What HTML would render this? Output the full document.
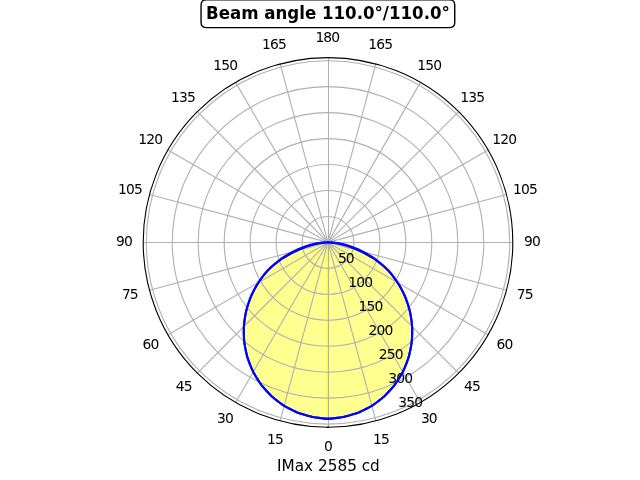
<!DOCTYPE html>
<html lang="en"><head><meta charset="utf-8"><title>Beam angle 110.0°/110.0°</title>
<style>html,body{margin:0;padding:0;background:#fff;overflow:hidden}svg{display:block}text{font-family:'DejaVu Sans','Liberation Sans',sans-serif;fill:#000}</style>
</head><body>
<svg width="640" height="480" viewBox="0 0 640 480">
<rect width="640" height="480" fill="#fff"/>
<path d="M328 242.4 L328 418.89 L331.08 418.61 L334.14 418.28 L337.2 417.89 L340.24 417.45 L343.27 416.95 L346.27 416.21 L349.24 415.41 L352.2 414.57 L355.13 413.67 L358.03 412.73 L360.86 411.44 L363.65 410.11 L366.4 408.74 L369.12 407.31 L371.8 405.85 L374.36 404.06 L376.87 402.24 L379.33 400.37 L381.74 398.47 L384.1 396.54 L386.31 394.31 L388.46 392.05 L390.55 389.76 L392.58 387.45 L394.55 385.11 L396.34 382.51 L398.05 379.89 L399.7 377.25 L401.28 374.6 L402.79 371.94 L404.1 369.05 L405.33 366.16 L406.49 363.26 L407.56 360.36 L408.56 357.46 L409.36 354.38 L410.06 351.3 L410.69 348.24 L411.24 345.19 L411.7 342.15 L411.95 338.97 L412.12 335.82 L412.2 332.69 L412.2 329.59 L412.11 326.51 L411.82 323.34 L411.44 320.21 L410.98 317.12 L410.44 314.06 L409.81 311.05 L408.99 307.99 L408.09 304.98 L407.11 302.02 L406.05 299.11 L404.92 296.26 L403.61 293.4 L402.22 290.6 L400.77 287.87 L399.23 285.2 L397.63 282.6 L395.89 280.03 L394.08 277.54 L392.2 275.11 L390.26 272.77 L388.26 270.5 L386.03 268.23 L383.73 266.06 L381.38 263.97 L378.97 261.96 L376.5 260.05 L373.89 258.2 L371.24 256.45 L368.53 254.79 L365.78 253.23 L362.99 251.78 L360.47 250.5 L357.91 249.31 L355.33 248.21 L352.71 247.2 L350.07 246.29 L347.74 245.53 L345.39 244.84 L343.02 244.24 L340.63 243.73 L338.24 243.3 L336.2 242.97 L334.16 242.72 L332.11 242.54 L330.05 242.44 L328 242.4 L328 242.4 L325.95 242.44 L323.89 242.54 L321.84 242.72 L319.8 242.97 L317.76 243.3 L315.37 243.73 L312.98 244.24 L310.61 244.84 L308.26 245.53 L305.93 246.29 L303.29 247.2 L300.67 248.21 L298.09 249.31 L295.53 250.5 L293.01 251.78 L290.22 253.23 L287.47 254.79 L284.76 256.45 L282.11 258.2 L279.5 260.05 L277.03 261.96 L274.62 263.97 L272.27 266.06 L269.97 268.23 L267.74 270.5 L265.74 272.77 L263.8 275.11 L261.92 277.54 L260.11 280.03 L258.37 282.6 L256.77 285.2 L255.23 287.87 L253.78 290.6 L252.39 293.4 L251.08 296.26 L249.95 299.11 L248.89 302.02 L247.91 304.98 L247.01 307.99 L246.19 311.05 L245.56 314.06 L245.02 317.12 L244.56 320.21 L244.18 323.34 L243.89 326.51 L243.8 329.59 L243.8 332.69 L243.88 335.82 L244.05 338.97 L244.3 342.15 L244.76 345.19 L245.31 348.24 L245.94 351.3 L246.64 354.38 L247.44 357.46 L248.44 360.36 L249.51 363.26 L250.67 366.16 L251.9 369.05 L253.21 371.94 L254.72 374.6 L256.3 377.25 L257.95 379.89 L259.66 382.51 L261.45 385.11 L263.42 387.45 L265.45 389.76 L267.54 392.05 L269.69 394.31 L271.9 396.54 L274.26 398.47 L276.67 400.37 L279.13 402.24 L281.64 404.06 L284.2 405.85 L286.88 407.31 L289.6 408.74 L292.35 410.11 L295.14 411.44 L297.97 412.73 L300.87 413.67 L303.8 414.57 L306.76 415.41 L309.73 416.21 L312.73 416.95 L315.76 417.45 L318.8 417.89 L321.86 418.28 L324.92 418.61 L328 418.89 L328 242.4 Z" fill="#ffff00" fill-opacity="0.4375"/>
<path d="M327.6 242.4 L327.6 418.89" fill="none" stroke="#ffff00" stroke-opacity="0.615" stroke-width="1.39"/>
<g fill="none" stroke="#b0b0b0" stroke-width="1.11" stroke-linecap="butt">
<path d="M328.5 242.4 L328.5 427.2"/>
<path d="M328 242.4 L375.83 420.9"/>
<path d="M328 242.4 L420.4 402.44"/>
<path d="M328 242.4 L458.67 373.07"/>
<path d="M328 242.4 L488.04 334.8"/>
<path d="M328 242.4 L506.5 290.23"/>
<path d="M328 242.5 L512.8 242.5"/>
<path d="M328 242.4 L506.5 194.57"/>
<path d="M328 242.4 L488.04 150"/>
<path d="M328 242.4 L458.67 111.73"/>
<path d="M328 242.4 L420.4 82.36"/>
<path d="M328 242.4 L375.83 63.9"/>
<path d="M328.5 242.4 L328.5 57.6"/>
<path d="M328 242.4 L280.17 63.9"/>
<path d="M328 242.4 L235.6 82.36"/>
<path d="M328 242.4 L197.33 111.73"/>
<path d="M328 242.4 L167.96 150"/>
<path d="M328 242.4 L149.5 194.57"/>
<path d="M328 242.5 L143.2 242.5"/>
<path d="M328 242.4 L149.5 290.23"/>
<path d="M328 242.4 L167.96 334.8"/>
<path d="M328 242.4 L197.33 373.07"/>
<path d="M328 242.4 L235.6 402.44"/>
<path d="M328 242.4 L280.17 420.9"/>
<circle cx="328" cy="242.4" r="25.96"/>
<circle cx="328" cy="242.4" r="51.91"/>
<circle cx="328" cy="242.4" r="77.87"/>
<circle cx="328" cy="242.4" r="103.82"/>
<circle cx="328" cy="242.4" r="129.78"/>
<circle cx="328" cy="242.4" r="155.73"/>
<circle cx="328" cy="242.4" r="181.69"/>
</g>
<g font-size="13.89" text-anchor="middle" letter-spacing="-0.84">
<text x="327.88" y="451">0</text>
<text x="380.91" y="444">15</text>
<text x="428.88" y="423">30</text>
<text x="471.94" y="391">45</text>
<text x="504.4" y="349">60</text>
<text x="524.85" y="299">75</text>
<text x="531.95" y="246">90</text>
<text x="525.07" y="194">105</text>
<text x="504.34" y="144">120</text>
<text x="472.17" y="102">135</text>
<text x="429.3" y="70">150</text>
<text x="380.23" y="49">165</text>
<text x="327.37" y="42">180</text>
<text x="274.1" y="49">165</text>
<text x="225.31" y="70">150</text>
<text x="183.08" y="102">135</text>
<text x="150.28" y="144">120</text>
<text x="130.09" y="194">105</text>
<text x="123.99" y="246">90</text>
<text x="129.88" y="299">75</text>
<text x="150.47" y="349">60</text>
<text x="183.86" y="391">45</text>
<text x="224.99" y="423">30</text>
<text x="274.89" y="444">15</text>
</g>
<g font-size="13.89" letter-spacing="-0.84">
<text x="337.88" y="263">50</text>
<text x="348.28" y="287">100</text>
<text x="358.43" y="311">150</text>
<text x="368.6" y="335">200</text>
<text x="378.81" y="359">250</text>
<text x="388.21" y="383">300</text>
<text x="398.27" y="407">350</text>
</g>
<g fill="none" stroke="#0000ff" stroke-width="2.08" stroke-linejoin="round" stroke-linecap="square">
<path d="M328 418.89 L331.08 418.61 L334.14 418.28 L337.2 417.89 L340.24 417.45 L343.27 416.95 L346.27 416.21 L349.24 415.41 L352.2 414.57 L355.13 413.67 L358.03 412.73 L360.86 411.44 L363.65 410.11 L366.4 408.74 L369.12 407.31 L371.8 405.85 L374.36 404.06 L376.87 402.24 L379.33 400.37 L381.74 398.47 L384.1 396.54 L386.31 394.31 L388.46 392.05 L390.55 389.76 L392.58 387.45 L394.55 385.11 L396.34 382.51 L398.05 379.89 L399.7 377.25 L401.28 374.6 L402.79 371.94 L404.1 369.05 L405.33 366.16 L406.49 363.26 L407.56 360.36 L408.56 357.46 L409.36 354.38 L410.06 351.3 L410.69 348.24 L411.24 345.19 L411.7 342.15 L411.95 338.97 L412.12 335.82 L412.2 332.69 L412.2 329.59 L412.11 326.51 L411.82 323.34 L411.44 320.21 L410.98 317.12 L410.44 314.06 L409.81 311.05 L408.99 307.99 L408.09 304.98 L407.11 302.02 L406.05 299.11 L404.92 296.26 L403.61 293.4 L402.22 290.6 L400.77 287.87 L399.23 285.2 L397.63 282.6 L395.89 280.03 L394.08 277.54 L392.2 275.11 L390.26 272.77 L388.26 270.5 L385.72 268.1 L383.12 265.8 L380.46 263.59 L377.73 261.49 L374.95 259.49 L371.8 257.48 L368.6 255.59 L365.34 253.82 L362.04 252.16 L358.69 250.62 L356.17 249.42 L353.62 248.32 L351.05 247.3 L348.44 246.37 L345.82 245.54 L343.93 244.92 L342.02 244.37 L340.1 243.89 L338.17 243.47 L336.23 243.12 L334.6 242.86 L332.95 242.66 L331.3 242.52 L329.65 242.43 L328 242.4 L328 242.4 L326.35 242.43 L324.7 242.52 L323.05 242.66 L321.4 242.86 L319.77 243.12 L317.83 243.47 L315.9 243.89 L313.98 244.37 L312.07 244.92 L310.18 245.54 L307.56 246.37 L304.95 247.3 L302.38 248.32 L299.83 249.42 L297.31 250.62 L293.96 252.16 L290.66 253.82 L287.4 255.59 L284.2 257.48 L281.05 259.49 L278.27 261.49 L275.54 263.59 L272.88 265.8 L270.28 268.1 L267.74 270.5 L265.74 272.77 L263.8 275.11 L261.92 277.54 L260.11 280.03 L258.37 282.6 L256.77 285.2 L255.23 287.87 L253.78 290.6 L252.39 293.4 L251.08 296.26 L249.95 299.11 L248.89 302.02 L247.91 304.98 L247.01 307.99 L246.19 311.05 L245.56 314.06 L245.02 317.12 L244.56 320.21 L244.18 323.34 L243.89 326.51 L243.8 329.59 L243.8 332.69 L243.88 335.82 L244.05 338.97 L244.3 342.15 L244.76 345.19 L245.31 348.24 L245.94 351.3 L246.64 354.38 L247.44 357.46 L248.44 360.36 L249.51 363.26 L250.67 366.16 L251.9 369.05 L253.21 371.94 L254.72 374.6 L256.3 377.25 L257.95 379.89 L259.66 382.51 L261.45 385.11 L263.42 387.45 L265.45 389.76 L267.54 392.05 L269.69 394.31 L271.9 396.54 L274.26 398.47 L276.67 400.37 L279.13 402.24 L281.64 404.06 L284.2 405.85 L286.88 407.31 L289.6 408.74 L292.35 410.11 L295.14 411.44 L297.97 412.73 L300.87 413.67 L303.8 414.57 L306.76 415.41 L309.73 416.21 L312.73 416.95 L315.76 417.45 L318.8 417.89 L321.86 418.28 L324.92 418.61 L328 418.89"/>
<path d="M328 418.89 L331.08 418.61 L334.14 418.28 L337.2 417.89 L340.24 417.45 L343.27 416.95 L346.27 416.21 L349.24 415.41 L352.2 414.57 L355.13 413.67 L358.03 412.73 L360.86 411.44 L363.65 410.11 L366.4 408.74 L369.12 407.31 L371.8 405.85 L374.36 404.06 L376.87 402.24 L379.33 400.37 L381.74 398.47 L384.1 396.54 L386.31 394.31 L388.46 392.05 L390.55 389.76 L392.58 387.45 L394.55 385.11 L396.34 382.51 L398.05 379.89 L399.7 377.25 L401.28 374.6 L402.79 371.94 L404.1 369.05 L405.33 366.16 L406.49 363.26 L407.56 360.36 L408.56 357.46 L409.36 354.38 L410.06 351.3 L410.69 348.24 L411.24 345.19 L411.7 342.15 L411.95 338.97 L412.12 335.82 L412.2 332.69 L412.2 329.59 L412.11 326.51 L411.82 323.34 L411.44 320.21 L410.98 317.12 L410.44 314.06 L409.81 311.05 L408.99 307.99 L408.09 304.98 L407.11 302.02 L406.05 299.11 L404.92 296.26 L403.61 293.4 L402.22 290.6 L400.77 287.87 L399.23 285.2 L397.63 282.6 L395.89 280.03 L394.08 277.54 L392.2 275.11 L390.26 272.77 L388.26 270.5 L386.03 268.23 L383.73 266.06 L381.38 263.97 L378.97 261.96 L376.5 260.05 L373.89 258.2 L371.24 256.45 L368.53 254.79 L365.78 253.23 L362.99 251.78 L360.47 250.5 L357.91 249.31 L355.33 248.21 L352.71 247.2 L350.07 246.29 L347.74 245.53 L345.39 244.84 L343.02 244.24 L340.63 243.73 L338.24 243.3 L336.2 242.97 L334.16 242.72 L332.11 242.54 L330.05 242.44 L328 242.4 L328 242.4 L325.95 242.44 L323.89 242.54 L321.84 242.72 L319.8 242.97 L317.76 243.3 L315.37 243.73 L312.98 244.24 L310.61 244.84 L308.26 245.53 L305.93 246.29 L303.29 247.2 L300.67 248.21 L298.09 249.31 L295.53 250.5 L293.01 251.78 L290.22 253.23 L287.47 254.79 L284.76 256.45 L282.11 258.2 L279.5 260.05 L277.03 261.96 L274.62 263.97 L272.27 266.06 L269.97 268.23 L267.74 270.5 L265.74 272.77 L263.8 275.11 L261.92 277.54 L260.11 280.03 L258.37 282.6 L256.77 285.2 L255.23 287.87 L253.78 290.6 L252.39 293.4 L251.08 296.26 L249.95 299.11 L248.89 302.02 L247.91 304.98 L247.01 307.99 L246.19 311.05 L245.56 314.06 L245.02 317.12 L244.56 320.21 L244.18 323.34 L243.89 326.51 L243.8 329.59 L243.8 332.69 L243.88 335.82 L244.05 338.97 L244.3 342.15 L244.76 345.19 L245.31 348.24 L245.94 351.3 L246.64 354.38 L247.44 357.46 L248.44 360.36 L249.51 363.26 L250.67 366.16 L251.9 369.05 L253.21 371.94 L254.72 374.6 L256.3 377.25 L257.95 379.89 L259.66 382.51 L261.45 385.11 L263.42 387.45 L265.45 389.76 L267.54 392.05 L269.69 394.31 L271.9 396.54 L274.26 398.47 L276.67 400.37 L279.13 402.24 L281.64 404.06 L284.2 405.85 L286.88 407.31 L289.6 408.74 L292.35 410.11 L295.14 411.44 L297.97 412.73 L300.87 413.67 L303.8 414.57 L306.76 415.41 L309.73 416.21 L312.73 416.95 L315.76 417.45 L318.8 417.89 L321.86 418.28 L324.92 418.61 L328 418.89"/>
</g>
<circle cx="328" cy="242.4" r="184.8" fill="none" stroke="#000" stroke-width="1.11"/>
<rect x="327" y="426.6" width="2" height="1.4" fill="#000"/>
<text x="328.45" y="471" font-size="15.28" text-anchor="middle">IMax 2585 cd</text>
<path d="M206.06 27.6 L449.74 27.6 Q454.74 27.6 454.74 22.6 L454.74 4.9 Q454.74 -0.1 449.74 -0.1 L206.06 -0.1 Q201.06 -0.1 201.06 4.9 L201.06 22.6 Q201.06 27.6 206.06 27.6 Z" fill="#fff" stroke="#000" stroke-width="1.39" stroke-linejoin="miter"/>
<text transform="translate(327.9 19) scale(0.998 1.07)" font-size="16.67" font-weight="700" text-anchor="middle">Beam angle 110.0°/110.0°</text>
</svg>
</body></html>
